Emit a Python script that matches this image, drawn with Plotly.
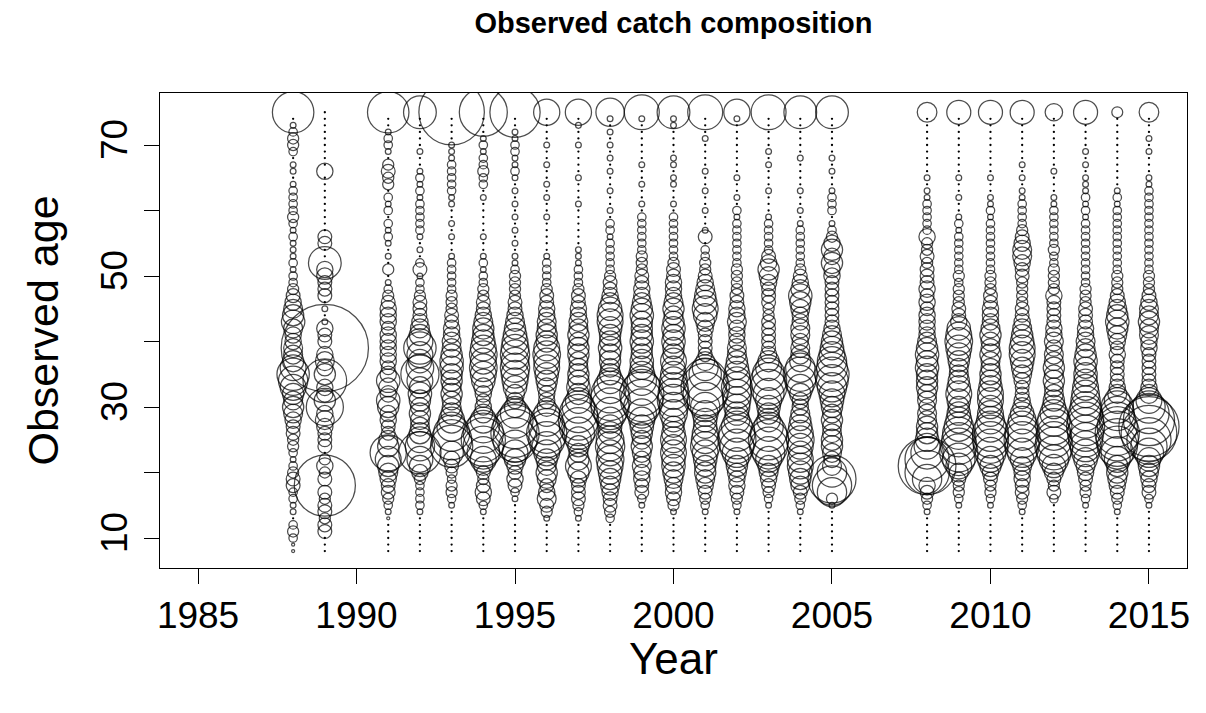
import plotly.graph_objects as go

# ages 8..75 (75 = plus group)
ages = list(range(8, 76))
years = [1988, 1989, 1991, 1992, 1993, 1994, 1995, 1996, 1997, 1998, 1999, 2000,
         2001, 2002, 2003, 2004, 2005, 2008, 2009, 2010, 2011, 2012, 2013, 2014, 2015]

# observed proportions (%) at age, ages 8..75
p1988 = [0.02,0.02,0.15,0.26,0.15,0,0.07,0.07,0.15,0.15,
         0.4,0.4,0.26,0.15,0.07,0.15,0.26,0.26,0.4,0.4,
         0.56,0.75,0.95,0.75,0.95,1.4,1.8,2.2,1.4,0.95,
         0.75,0.75,0.56,0.56,0.75,1.15,0.95,0.75,0.56,0.4,
         0.26,0.15,0.15,0.07,0.15,0.07,0.07,0.07,0.15,0.07,
         0.15,0.26,0.15,0.15,0.15,0.15,0.07,0,0.07,0.07,
         0,0.15,0.26,0.26,0.15,0.07,0,3.61]
p1989 = [0,0,0,0.4,0.4,0.26,0.4,0.4,0.26,0.4,
         7.84,0.4,0.26,0.56,0.26,0,0.4,0.4,0.4,0.56,
         0.75,0.56,2.89,0.95,0.56,0.56,4.0,0.95,0.56,0.75,
         0.56,16.0,0.4,0.4,0.56,0.07,0,0.07,0,0.4,
         0.4,0.4,0.56,0.56,2.25,0,0,0.4,0.4,0,
         0,0,0,0,0,0,0,0,0.56,0,
         0,0,0,0,0,0,0,0]
p1991 = [0,0,0,0,0,0.02,0.07,0.15,0.26,0.4,
         0.4,0.56,0.75,0.95,1.4,2.75,0.95,0.75,0.4,0.4,
         0.56,0.56,0.95,1.15,0.56,0.75,1.15,0.56,0.4,0.56,
         0.56,0.56,0.56,0.56,0.4,0.56,0.56,0.56,0.4,0.26,
         0.15,0.07,0,0.26,0,0.07,0,0.07,0.15,0.07,
         0.15,0,0.15,0.07,0.15,0,0.26,0.26,0.4,0.26,
         0,0.07,0.15,0.15,0.07,0,0,3.61]
p1992 = [0,0,0,0,0,0,0.07,0.15,0.15,0.15,
         0.15,0.26,0.56,0.95,1.4,3.75,1.8,1.4,0.95,0.75,
         0.75,0.95,0.75,0.95,1.15,0.95,1.4,3.05,1.6,1.15,
         1.4,2.2,1.4,0.95,0.75,0.56,0.4,0.4,0.4,0.26,
         0.15,0.15,0.07,0.4,0.15,0,0.07,0,0.07,0.15,
         0.15,0.15,0.15,0.15,0.07,0.15,0.07,0.15,0.07,0,
         0,0.07,0,0,0,0,0,2.25]
p1993 = [0,0,0,0,0,0,0,0.07,0.15,0.26,
         0.26,0.15,0.26,0.4,0.56,1.15,3.75,3.4,2.75,1.8,
         1.4,0.95,0.75,0.75,0.95,0.75,0.95,0.95,1.15,1.15,
         0.95,0.75,0.75,0.56,0.56,0.4,0.4,0.26,0.26,0.26,
         0.15,0.15,0.15,0.15,0.15,0.07,0,0,0.07,0,
         0.07,0,0,0.07,0.07,0.15,0.15,0.15,0.15,0.15,
         0.07,0.07,0.07,0,0,0,0,9.0]
p1994 = [0,0,0,0,0,0,0.07,0.15,0.4,0.56,
         0.4,0.26,0.4,0.75,1.4,2.2,3.4,4.1,3.4,2.2,
         1.4,0.75,0.56,0.4,0.56,0.75,1.15,1.4,1.6,1.4,
         1.6,1.4,1.15,0.95,0.95,0.75,0.56,0.4,0.4,0.26,
         0.26,0.15,0.15,0.07,0.15,0.07,0,0,0.07,0,
         0,0,0,0,0.07,0,0.15,0.15,0.26,0.15,
         0.15,0.07,0.15,0.07,0,0,0,4.84]
p1995 = [0,0,0,0,0,0,0,0,0.07,0.15,
         0.4,0.56,0.4,0.56,0.95,1.4,2.2,4.1,4.9,4.1,
         2.75,1.8,0.95,0.56,0.75,1.15,1.4,1.6,1.8,1.6,
         1.8,1.6,1.4,1.15,0.95,0.75,0.56,0.4,0.4,0.26,
         0.26,0.26,0.26,0.15,0.07,0.07,0,0.07,0,0.07,
         0,0.07,0,0.07,0,0.07,0,0.07,0.15,0.07,
         0.07,0.15,0.15,0.07,0.07,0,0,5.29]
p1996 = [0,0,0,0,0,0.07,0.26,0.4,0.75,0.56,
         0.4,0.75,0.95,0.75,0.95,1.4,1.8,2.75,3.4,2.75,
         2.2,1.4,0.75,0.56,0.56,0.75,0.95,1.15,1.4,1.4,
         1.6,1.4,0.95,0.95,0.75,0.75,0.56,0.56,0.4,0.4,
         0.26,0.15,0.15,0.15,0.15,0.07,0,0,0,0,
         0,0.07,0,0,0.07,0,0.07,0,0,0.07,
         0,0,0.07,0,0,0,0,1.44]
p1997 = [0,0,0,0,0,0.07,0.15,0.26,0.4,0.4,
         0.4,0.56,0.95,1.4,0.95,0.75,0.95,1.4,2.2,3.05,
         3.4,3.05,2.2,1.4,0.95,1.15,0.95,0.95,0.75,0.75,
         0.95,0.95,0.75,0.95,0.75,0.75,0.56,0.56,0.4,0.4,
         0.26,0.15,0.15,0.15,0.07,0.07,0.07,0,0,0,
         0,0,0,0.07,0,0,0,0.07,0,0,
         0,0,0.07,0,0,0.07,0,1.44]
p1998 = [0,0,0,0,0,0.15,0.26,0.4,0.4,0.56,
         0.75,0.95,1.15,1.4,1.6,1.4,1.8,1.6,1.15,1.15,
         1.4,2.2,3.05,3.4,3.05,2.2,1.4,0.95,0.75,0.95,
         0.95,1.15,0.95,0.95,1.15,1.4,1.4,1.15,0.75,0.56,
         0.4,0.4,0.26,0.15,0.15,0.15,0.15,0.15,0.07,0.15,
         0.15,0,0.07,0,0,0.07,0,0,0.07,0,
         0.07,0,0.07,0,0.07,0,0.07,1.69]
p1999 = [0,0,0,0,0,0,0,0.07,0.15,0.4,
         0.4,0.56,0.56,0.75,0.56,0.75,0.95,0.75,0.95,1.15,
         1.4,1.8,2.75,3.75,4.1,2.75,1.8,1.4,1.15,1.15,
         0.95,0.95,1.15,0.95,0.95,0.95,1.15,0.95,0.75,0.56,
         0.56,0.4,0.4,0.26,0.26,0.26,0.15,0.15,0.15,0.15,
         0.15,0.15,0,0.07,0,0,0.07,0,0,0.07,
         0,0,0,0,0,0,0.07,2.56]
p2000 = [0,0,0,0,0,0,0.07,0.26,0.4,0.56,
         0.56,0.75,0.95,1.15,1.15,1.4,1.15,1.4,1.15,0.95,
         1.15,1.6,1.8,2.2,2.0,1.8,1.6,1.4,1.15,1.4,
         0.95,0.95,1.15,0.95,1.15,0.95,0.75,0.95,0.75,0.56,
         0.56,0.56,0.4,0.4,0.26,0.15,0.15,0.15,0.15,0.15,
         0.15,0.15,0,0.07,0,0,0.07,0.07,0,0.07,
         0.07,0,0,0,0,0.07,0.07,2.25]
p2001 = [0,0,0,0,0,0,0.07,0.15,0.26,0.4,
         0.56,0.75,0.95,0.95,1.15,1.4,1.8,1.6,1.4,1.15,
         1.15,1.4,1.8,2.75,4.1,4.9,4.1,2.2,1.4,0.75,
         0.4,0.4,0.4,0.4,0.56,0.75,1.15,1.4,1.15,0.95,
         0.75,0.56,0.4,0.26,0.26,0.15,0.15,0,0.4,0.07,
         0,0,0.07,0,0,0.07,0,0,0.07,0,
         0,0,0,0.07,0,0,0,2.56]
p2002 = [0,0,0,0,0,0,0.07,0.15,0.26,0.4,
         0.56,0.56,0.75,0.95,1.15,1.8,2.45,3.05,2.75,2.0,
         1.4,1.15,1.4,1.6,1.8,2.0,1.6,1.4,1.15,0.95,
         0.75,0.75,0.56,0.56,0.56,0.75,0.56,0.56,0.4,0.4,
         0.26,0.26,0.26,0.26,0.15,0.15,0.15,0.15,0.15,0.15,
         0.15,0.07,0.15,0,0.07,0,0,0.07,0,0,
         0,0,0,0,0,0,0.07,1.44]
p2003 = [0,0,0,0,0,0,0,0.07,0.15,0.26,
         0.4,0.56,0.75,0.95,1.4,2.2,3.05,3.4,2.75,1.8,
         1.15,0.95,1.15,1.4,2.0,2.75,2.75,2.2,1.4,0.95,
         0.56,0.4,0.4,0.4,0.4,0.4,0.26,0.26,0.4,0.4,
         0.4,0.56,0.75,0.95,0.56,0.4,0.15,0.15,0.15,0.15,
         0.15,0.07,0,0,0,0.07,0,0,0,0.07,
         0,0.07,0,0,0,0,0,2.56]
p2004 = [0,0,0,0,0,0,0.07,0.15,0.26,0.4,
         0.75,0.95,1.15,1.4,1.4,1.15,1.4,1.6,1.4,1.15,
         0.95,0.75,0.56,0.56,0.95,1.4,2.0,2.45,1.8,0.95,
         0.75,0.75,0.56,0.75,0.75,0.56,0.56,0.75,0.95,1.15,
         0.75,0.56,0.4,0.26,0.15,0.15,0.15,0.15,0.15,0.15,
         0.07,0,0.07,0,0,0.07,0,0,0,0,
         0.07,0,0,0,0,0,0,2.25]
p2005 = [0,0,0,0,0,0,0,0.07,0.26,1.8,
         3.24,4.84,1.8,0.75,0.56,0.75,0.95,0.95,0.75,0.75,
         0.95,0.75,0.95,1.15,1.4,1.8,2.2,2.45,2.0,1.8,
         1.4,1.15,0.95,0.75,0.56,0.4,0.4,0.4,0.4,0.4,
         0.4,0.4,0.56,0.56,0.95,0.56,0.95,0.56,0.26,0.15,
         0.07,0,0.15,0.15,0.15,0.07,0,0,0.07,0,
         0.07,0,0,0,0,0,0,2.25]
p2008 = [0,0,0,0,0,0,0.07,0.15,0.26,0.4,
         0.56,1.8,4.1,7.0,4.1,2.2,1.4,1.15,0.95,0.95,
         0.75,0.75,0.56,0.75,0.75,0.95,0.95,0.95,1.15,0.95,
         1.15,0.95,0.75,0.56,0.56,0.56,0.56,0.4,0.56,0.4,
         0.56,0.4,0.4,0.4,0.26,0.4,0.26,0.26,0.56,0.15,
         0.15,0.15,0.15,0.15,0.07,0.07,0,0.07,0,0,
         0,0,0,0,0,0,0,0.81]
p2009 = [0,0,0,0,0,0,0,0.07,0.15,0.26,
         0.26,0.4,0.75,1.4,2.2,3.05,2.75,2.45,2.2,1.8,
         1.4,1.15,0.95,1.15,1.4,1.15,0.95,0.75,0.75,0.95,
         1.15,1.4,1.6,1.4,1.15,0.56,0.4,0.4,0.26,0.26,
         0.26,0.15,0.26,0.15,0.15,0.15,0.15,0.15,0.15,0.07,
         0.15,0.07,0,0,0.07,0,0,0.07,0,0,
         0,0,0,0,0,0,0,1.21]
p2010 = [0,0,0,0,0,0,0,0.07,0.15,0.26,
         0.26,0.4,0.56,0.95,1.4,2.0,2.45,2.75,2.75,2.0,
         1.6,1.4,1.15,1.4,1.4,1.15,0.95,0.95,0.75,0.75,
         0.95,0.75,0.75,0.95,0.75,0.56,0.56,0.56,0.4,0.4,
         0.26,0.26,0.26,0.15,0.15,0.15,0.15,0.15,0.15,0.15,
         0.15,0.07,0.15,0.07,0.07,0,0,0.07,0,0,
         0,0,0,0,0,0,0,1.21]
p2011 = [0,0,0,0,0,0,0.07,0.15,0.26,0.4,
         0.4,0.56,0.56,0.75,1.15,1.8,2.45,2.75,2.45,2.0,
         1.6,1.15,0.75,0.56,0.4,0.4,0.56,0.75,0.95,1.15,
         1.4,1.4,1.15,0.95,0.75,0.56,0.4,0.4,0.26,0.26,
         0.26,0.26,0.4,0.4,0.56,0.75,0.75,0.56,0.4,0.26,
         0.15,0.15,0.15,0.15,0.07,0.07,0,0.07,0,0.07,
         0,0,0,0,0,0,0,1.21]
p2012 = [0,0,0,0,0,0,0,0,0.15,0.4,
         0.26,0.4,0.75,1.15,1.8,2.45,3.05,2.75,2.45,2.75,
         2.2,1.6,1.15,0.95,0.75,0.75,0.95,0.75,0.95,0.75,
         0.75,0.56,0.75,0.56,0.56,0.4,0.4,0.4,0.4,0.56,
         0.26,0.26,0.26,0.26,0.15,0.15,0.26,0.15,0.15,0.15,
         0.15,0.15,0.15,0.07,0.07,0,0,0,0.07,0,
         0,0,0,0,0,0,0,0.64]
p2013 = [0,0,0,0,0,0,0,0.07,0.15,0.26,
         0.26,0.4,0.56,0.75,1.15,1.6,2.0,2.45,2.75,3.05,
         2.75,2.45,2.0,1.8,1.6,1.4,1.15,1.15,0.95,1.15,
         0.95,0.75,0.75,0.56,0.56,0.4,0.4,0.4,0.26,0.26,
         0.26,0.15,0.15,0.15,0.15,0.15,0.15,0.15,0.15,0.15,
         0.15,0.07,0.15,0.07,0.15,0.07,0.07,0.07,0,0.07,
         0,0.07,0,0,0,0,0,1.21]
p2014 = [0,0,0,0,0,0,0.07,0.15,0.26,0.4,
         0.56,0.75,0.95,0.95,1.4,2.2,3.4,3.75,4.1,3.4,
         2.75,2.45,2.2,1.4,0.75,0.56,0.4,0.4,0.4,0.4,
         0.56,0.4,0.56,0.75,0.95,1.15,0.95,0.75,0.56,0.4,
         0.26,0.26,0.26,0.15,0.15,0.15,0.15,0.15,0.15,0.15,
         0.15,0.15,0.15,0.07,0.15,0.07,0,0,0,0,
         0,0,0,0,0,0,0,0.25]
p2015 = [0,0,0,0,0,0,0,0.07,0.15,0.4,
         0.4,0.56,0.75,0.95,1.15,1.8,2.75,4.1,6.5,7.6,
         5.5,3.4,2.2,1.4,0.75,0.56,0.4,0.4,0.4,0.4,
         0.4,0.56,0.56,0.75,0.75,0.95,0.75,0.75,0.56,0.4,
         0.26,0.26,0.26,0.15,0.15,0.15,0.15,0.15,0.15,0.15,
         0.15,0.15,0.15,0.15,0.15,0.15,0.07,0.07,0,0,
         0,0.07,0,0.07,0,0,0,0.81]

series = [p1988, p1989, p1991, p1992, p1993, p1994, p1995, p1996, p1997, p1998,
          p1999, p2000, p2001, p2002, p2003, p2004, p2005, p2008, p2009, p2010,
          p2011, p2012, p2013, p2014, p2015]

cx, cy, cs = [], [], []
dx, dy = [], []
for yr, vals in zip(years, series):
    for a, v in zip(ages, vals):
        if v > 0:
            cx.append(yr); cy.append(a); cs.append(v)
        else:
            dx.append(yr); dy.append(a)

FONT = "Liberation Sans, Arial, Helvetica, sans-serif"

fig = go.Figure()
fig.add_trace(go.Scatter(
    x=dx, y=dy, mode="markers", hoverinfo="skip",
    marker=dict(symbol="circle", size=2.3, color="black", line=dict(width=0)),
    showlegend=False))
fig.add_trace(go.Scatter(
    x=cx, y=cy, mode="markers",
    marker=dict(symbol="circle-open", size=cs, sizemode="area", sizeref=0.0042,
                sizemin=1.2, color="black", line=dict(width=1.25, color="black")),
    showlegend=False))

fig.update_layout(
    width=1206, height=713,
    margin=dict(l=160, r=19, t=93, b=145),
    paper_bgcolor="white", plot_bgcolor="white",
    font=dict(family=FONT, color="black"),
    title=dict(text="<b>Observed catch composition</b>", x=0.5, xref="paper",
               y=1 - 23 / 713, yref="container", xanchor="center", yanchor="middle",
               font=dict(size=29, family=FONT, color="black")),
    xaxis=dict(range=[1983.8, 2016.2], tickvals=[1985, 1990, 1995, 2000, 2005, 2010, 2015],
               showgrid=False, zeroline=False, showline=True, mirror=True,
               linecolor="black", linewidth=1, ticks="outside", ticklen=15,
               tickwidth=1, tickcolor="black", tickfont=dict(size=37),
               ticklabelstandoff=0),
    yaxis=dict(range=[5.42, 77.94], tickvals=[10, 20, 30, 40, 50, 60, 70],
               ticktext=["10", "", "30", "", "50", "", "70"], tickangle=-90,
               showgrid=False, zeroline=False, showline=True, mirror=True,
               linecolor="black", linewidth=1, ticks="outside", ticklen=15,
               tickwidth=1, tickcolor="black", tickfont=dict(size=37),
               ticklabelstandoff=2),
    annotations=[
        dict(text="Year", x=0.5, y=(568 - 658) / 475, xref="paper", yref="paper",
             showarrow=False, xanchor="center", yanchor="middle",
             font=dict(size=44, family=FONT, color="black")),
        dict(text="Observed age", x=(42 - 160) / 1027, y=0.5, xref="paper", yref="paper",
             showarrow=False, xanchor="center", yanchor="middle", textangle=-90,
             font=dict(size=43, family=FONT, color="black")),
    ],
)

fig.write_html("out.html")
